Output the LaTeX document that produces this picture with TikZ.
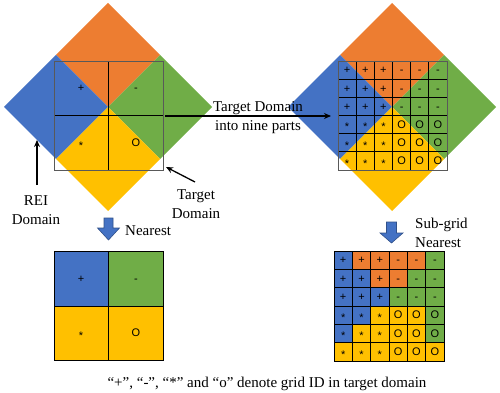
\documentclass[tikz,border=0pt]{standalone}
\usepackage{fontspec}
\setmainfont{Liberation Serif}
\newfontfamily\cellfont{Liberation Sans}
\usetikzlibrary{arrows.meta}
\definecolor{cB}{HTML}{4472C4}
\definecolor{cO}{HTML}{ED7D31}
\definecolor{cG}{HTML}{70AD47}
\definecolor{cY}{HTML}{FFC000}
\newcommand\gridlab[2]{\ifnum#1<4 \ifnum#2<4 +\else -\fi\else\ifnum#2<4 \raisebox{-2.5pt}{*}\else O\fi\fi}
\begin{document}
\begin{tikzpicture}[x=1pt,y=-1pt,
  lbl/.style={font=\fontsize{15}{19}\selectfont, inner sep=0pt, anchor=base},
  cl/.style={font=\cellfont\fontsize{11}{12}\selectfont, inner sep=0pt, text height=7.5pt, text depth=0pt},
  ptr/.style={-{Stealth[length=7pt,width=6pt]}, line width=1.3pt},
  gl/.style={draw=black, line width=0.8pt},
  tbox/.style={draw=black!65, line width=0.8pt},
  blockarrow/.style={fill=cB, draw=cB!70!black, line width=0.6pt}]
\useasboundingbox (0,0) rectangle (500,393);

% diamonds
\foreach \cx in {108,392} {
  \fill[cO] (\cx,3) -- (\cx+52,55) -- (\cx,107) -- (\cx-52,55) -- cycle;
  \fill[cB] (\cx-52,55) -- (\cx,107) -- (\cx-52,159) -- (\cx-104,107) -- cycle;
  \fill[cG] (\cx+52,55) -- (\cx+104,107) -- (\cx+52,159) -- (\cx,107) -- cycle;
  \fill[cY] (\cx,107) -- (\cx+52,159) -- (\cx,211) -- (\cx-52,159) -- cycle;
}

% left target domain 2x2
\draw[gl] (108.5,61) -- (108.5,170);
\draw[gl] (54,115.5) -- (163,115.5);
\draw[tbox] (54,61) rectangle (163,170);
\node[cl] (l11) at (81,88) {+};
\node[cl] (l12) at (136,88) {-};
\node[cl] (l21) at (81,143) {\raisebox{-2.5pt}{*}};
\node[cl] (l22) at (136,143) {O};

% right target domain 6x6
\foreach \k in {1,...,5} {
  \draw[gl] (338+\k*18.1667,61) -- (338+\k*18.1667,170);
  \draw[gl] (338,61+\k*18.1667) -- (447,61+\k*18.1667);
}
\draw[tbox] (338,61) rectangle (447,170);
\foreach \i in {1,...,6} {
  \foreach \j in {1,...,6} {
    \node[cl] (r\i\j) at (338+\j*18.1667-9.0833,61+\i*18.1667-9.0833) {\gridlab{\i}{\j}};
  }
}

% middle arrow and text
\coordinate (ma1) at (165,116);
\coordinate (ma2) at (331,116);
\draw[ptr] (ma1) -- (ma2);
\node[lbl] (mt1) at (258,111) {Target Domain};
\node[lbl] (mt2) at (258,130) {into nine parts};

% REI domain label
\node[lbl] (rei1) at (36,205) {REI};
\node[lbl] (rei2) at (36,224) {Domain};
\coordinate (reiA) at (37,185);
\coordinate (reiB) at (37,140);
\draw[ptr] (reiA) -- (reiB);

% Target domain label
\node[lbl] (td1) at (196,199) {Target};
\node[lbl] (td2) at (196,218) {Domain};
\coordinate (tdA) at (195,182);
\coordinate (tdB) at (166,167);
\draw[ptr] (tdA) -- (tdB);

% block arrows
\draw[blockarrow] (104,218) -- (113,218) -- (113,228) -- (119.5,228) -- (108.5,240) -- (97.5,228) -- (104,228) -- cycle;
\node[lbl, anchor=base west] (n1) at (125,235) {Nearest};
\draw[blockarrow] (386.5,222) -- (396.5,222) -- (396.5,233) -- (403,233) -- (391.5,243) -- (380,233) -- (386.5,233) -- cycle;
\node[lbl, anchor=base west] (sg1) at (415,228) {Sub-grid};
\node[lbl, anchor=base west] (sg2) at (415,247) {Nearest};

% bottom left 2x2 result
\fill[cB] (54,251) rectangle (108.5,306);
\fill[cG] (108.5,251) rectangle (163,306);
\fill[cY] (54,306) rectangle (163,360);
\draw[gl] (108.5,251) -- (108.5,360);
\draw[gl] (54,306) -- (163,306);
\draw[gl] (54,251) rectangle (163,360);
\node[cl] (b11) at (81,279) {+};
\node[cl] (b12) at (136,279) {-};
\node[cl] (b21) at (81,333) {\raisebox{-2.5pt}{*}};
\node[cl] (b22) at (136,333) {O};

% bottom right 6x6 result
\foreach \row [count=\i] in {{cB,cO,cO,cO,cO,cG},{cB,cB,cO,cO,cG,cG},{cB,cB,cB,cG,cG,cG},{cB,cB,cY,cY,cY,cG},{cB,cY,cY,cY,cY,cG},{cY,cY,cY,cY,cY,cY}} {
  \foreach \c [count=\j] in \row {
    \path[gl, fill=\c] (334+\j*18.3333-18.3333,251+\i*18.3333-18.3333) rectangle +(18.3333,18.3333);
    \node[cl] (s\i\j) at (334+\j*18.3333-9.1667,251+\i*18.3333-9.1667) {\gridlab{\i}{\j}};
  }
}

% caption
\node[lbl] (cap) at (267,387) {“+”, “-”, “*” and “o” denote grid ID in target domain};
\end{tikzpicture}
\end{document}
